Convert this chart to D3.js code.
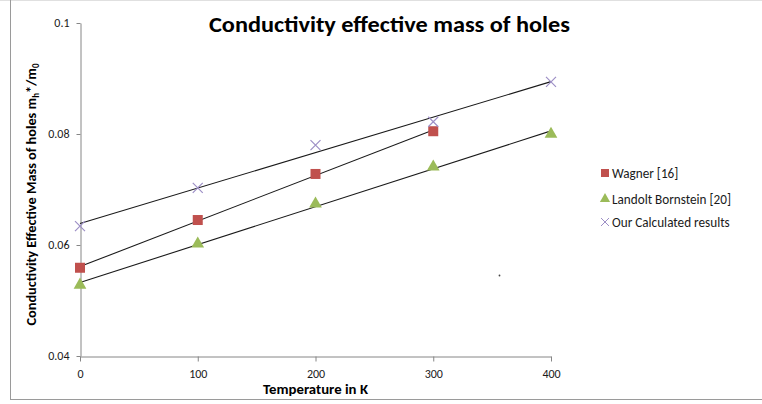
<!DOCTYPE html>
<html><head><meta charset="utf-8">
<script src="https://cdn.jsdelivr.net/npm/d3@7"></script>
<style>
body{margin:0;background:#fff;}
svg{display:block;font-family:Calibri,Carlito,Lato,"Open Sans",sans-serif;}
</style></head>
<body>
<svg id="c" width="762" height="404"></svg>
<script>
const temperatures = [0, 100, 200, 300, 400];
const wagner = [0.0559, 0.0645, 0.0728, 0.0805];
const landolt = [0.0528, 0.0602, 0.0674, 0.0741, 0.0800];
const calculated = [0.0634, 0.0703, 0.0780, 0.0822, 0.0894];
const xTicks = [0, 100, 200, 300, 400];
const yTicks = [0.04, 0.06, 0.08, 0.1];
const seriesNames = ["Wagner [16]", "Landolt Bornstein [20]", "Our Calculated results"];

const svg = d3.select("#c");
const x = d3.scaleLinear().domain([0, 400]).range([80, 551]);
const y = d3.scaleLinear().domain([0.04, 0.1]).range([356, 23]);

// chart border
svg.append("line").attr("x1",0).attr("x2",762).attr("y1",0.5).attr("y2",0.5).attr("stroke","#e0e0e0");
svg.append("line").attr("x1",10.5).attr("x2",10.5).attr("y1",0).attr("y2",400).attr("stroke","#9a9a9a");
svg.append("line").attr("x1",10).attr("x2",762).attr("y1",399.5).attr("y2",399.5).attr("stroke","#9a9a9a");

// axes
const axisColor = "#868686";
const gx = svg.append("g").attr("transform","translate(0,356.5)")
  .call(d3.axisBottom(x).tickValues(xTicks).tickSize(5).tickSizeOuter(0).tickPadding(8).tickFormat(d3.format("d")));
const gy = svg.append("g").attr("transform","translate(80.5,0)")
  .call(d3.axisLeft(y).tickValues(yTicks).tickSize(4).tickSizeOuter(0).tickPadding(7).tickFormat(d => String(+d.toFixed(2))));
[gx, gy].forEach(g => {
  g.selectAll("path,line").attr("stroke", axisColor);
  g.selectAll("text").attr("fill","#1a1a1a").style("font-size","12px").style("font-family","Calibri,Carlito,Lato,sans-serif");
});

// trendlines (least squares)
function fit(xs, ys){
  const n = ys.length, xx = xs.slice(0,n);
  const mx = d3.mean(xx), my = d3.mean(ys);
  let num=0, den=0;
  for(let i=0;i<n;i++){num+=(xx[i]-mx)*(ys[i]-my);den+=(xx[i]-mx)**2;}
  const b = num/den, a = my - b*mx;
  return [[xx[0], a + b*xx[0]], [xx[n-1], a + b*xx[n-1]]];
}
const line = d3.line().x(d=>x(d[0])).y(d=>y(d[1]));
[calculated, wagner, landolt].forEach(s => {
  svg.append("path").attr("d", line(fit(temperatures, s)))
    .attr("fill","none").attr("stroke","#1a1a1a").attr("stroke-width",1.1);
});

const red = "#C0504D", green = "#9BBB59", purple = "#9d8fc6";
// markers
svg.append("g").selectAll("rect").data(wagner).join("rect")
  .attr("x",(d,i)=>x(temperatures[i])-5).attr("y",d=>y(d)-5)
  .attr("width",10).attr("height",10).attr("fill",red);
const tri = d3.symbol().type(d3.symbolTriangle).size(70);
svg.append("g").selectAll("path").data(landolt).join("path")
  .attr("transform",(d,i)=>`translate(${x(temperatures[i])},${y(d)})`)
  .attr("d",tri).attr("fill",green);
svg.append("g").selectAll("path").data(calculated).join("path")
  .attr("transform",(d,i)=>`translate(${x(temperatures[i])},${y(d)})`)
  .attr("d","M-5,-5L5,5M-5,5L5,-5").attr("stroke",purple).attr("stroke-width",1.2).attr("fill","none");

// stray dot
svg.append("circle").attr("cx",499.5).attr("cy",275.5).attr("r",0.9).attr("fill","#444");

// legend
const lg = svg.append("g").style("font-size","13.2px").attr("fill","#1a1a1a");
const ly = [173, 199, 222];
lg.append("rect").attr("x",601).attr("y",ly[0]-4).attr("width",8).attr("height",8).attr("fill",red);
lg.append("path").attr("transform",`translate(605,${ly[1]})`).attr("d",d3.symbol().type(d3.symbolTriangle).size(45)).attr("fill",green);
lg.append("path").attr("transform",`translate(605,${ly[2]})`).attr("d","M-4,-4L4,4M-4,4L4,-4").attr("stroke",purple).attr("stroke-width",1).attr("fill","none");
seriesNames.forEach((n,i)=>{
  lg.append("text").attr("x",612).attr("y",ly[i]).attr("dy","0.35em").text(n);
});

// title
svg.append("text").attr("x",389.5).attr("y",32).attr("text-anchor","middle")
  .attr("textLength",361).attr("lengthAdjust","spacingAndGlyphs")
  .style("font-size","23px").style("font-weight","bold").attr("fill","#000")
  .text("Conductivity effective mass of holes");

// axis titles
svg.append("text").attr("x",315.5).attr("y",394).attr("text-anchor","middle")
  .attr("textLength",105).attr("lengthAdjust","spacingAndGlyphs")
  .style("font-size","14px").style("font-weight","bold").attr("fill","#000")
  .text("Temperature in K");
const yl = svg.append("text").attr("transform","translate(36,194.5) rotate(-90)").attr("text-anchor","middle")
  .style("font-size","14.3px").style("font-weight","bold").attr("fill","#000");
yl.append("tspan").text("Conductivity Effective Mass of holes m");
yl.append("tspan").attr("dy",3).style("font-size","9px").text("h");
yl.append("tspan").attr("dy",-3).text("*/m");
yl.append("tspan").attr("dy",3).style("font-size","9px").text("0");
</script>
</body></html>
